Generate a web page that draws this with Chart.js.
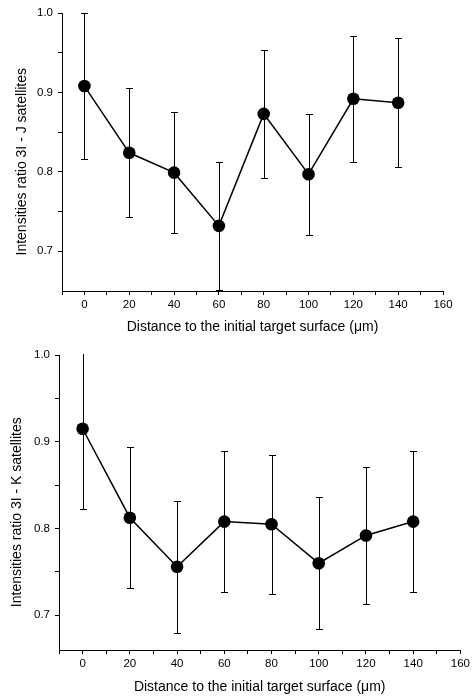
<!DOCTYPE html>
<html>
<head>
<meta charset="utf-8">
<script src="https://cdn.jsdelivr.net/npm/chart.js@4"></script>
<style>
  body { margin: 0; background: #fff; }
  canvas { position: absolute; left: 0; }
</style>
</head>
<body>
<canvas id="chartJ" width="473" height="340" style="top:0"></canvas>
<canvas id="chartK" width="473" height="356" style="top:340px"></canvas>
<script>
var distance = [0, 20, 40, 60, 80, 100, 120, 140];
// 3I - J satellites
var ratioJ = [0.908, 0.824, 0.799, 0.732, 0.873, 0.797, 0.892, 0.887];
var errJ = [0.092, 0.081, 0.076, 0.081, 0.081, 0.076, 0.079, 0.081];
// 3I - K satellites
var ratioK = [0.915, 0.8125, 0.756, 0.808, 0.805, 0.760, 0.792, 0.808];
var errK = [0.092, 0.081, 0.076, 0.081, 0.080, 0.076, 0.079, 0.081];

var xTicks = [-10, 0, 10, 20, 30, 40, 50, 60, 70, 80, 90, 100, 110, 120, 130, 140, 150, 160];
var yTicks = [0.7, 0.75, 0.8, 0.85, 0.9, 0.95, 1.0];

var FONT = 'Liberation Sans, Arial, sans-serif';
Chart.defaults.font.family = FONT;
Chart.defaults.color = '#000';

// error bars drawn with the chart's own scales
var errorBars = {
    id: 'errorBars',
    beforeDatasetsDraw: function (chart) {
        var ctx = chart.ctx, a = chart.chartArea;
        var xs = chart.scales.x, ys = chart.scales.y;
        var err = chart.options.plugins.errorBars.err;
        ctx.save();
        ctx.beginPath();
        ctx.rect(a.left, a.top - 1, a.right - a.left, a.bottom - a.top + 2);
        ctx.clip();
        ctx.strokeStyle = '#000';
        ctx.lineWidth = 1;
        chart.data.datasets[0].data.forEach(function (p, i) {
            var x = Math.round(xs.getPixelForValue(p.x)) + 0.5;
            var y1 = Math.round(ys.getPixelForValue(p.y + err[i])) + 0.5;
            var y2 = Math.round(ys.getPixelForValue(p.y - err[i])) + 0.5;
            ctx.beginPath();
            ctx.moveTo(x, y1); ctx.lineTo(x, y2);
            ctx.moveTo(x - 3.5, y1); ctx.lineTo(x + 3.5, y1);
            ctx.moveTo(x - 3.5, y2); ctx.lineTo(x + 3.5, y2);
            ctx.stroke();
        });
        ctx.restore();
    }
};

function makeChart(id, values, err, yMin, title, lay) {
    var pts = distance.map(function (d, i) { return { x: d, y: values[i] }; });
    return new Chart(document.getElementById(id).getContext('2d'), {
        type: 'scatter',
        data: {
            datasets: [{
                data: pts,
                showLine: true,
                borderColor: '#000',
                borderWidth: 1.5,
                pointRadius: 6.3,
                pointBackgroundColor: '#000',
                pointBorderColor: '#000',
                pointBorderWidth: 0
            }]
        },
        options: {
            responsive: false,
            animation: false,
            devicePixelRatio: 1,
            layout: { padding: { top: lay.top, right: lay.right, left: 0, bottom: 0 } },
            plugins: {
                legend: { display: false },
                tooltip: { enabled: false },
                errorBars: { err: err }
            },
            scales: {
                x: {
                    type: 'linear',
                    min: -10,
                    max: 160,
                    afterBuildTicks: function (s) { s.ticks = xTicks.map(function (v) { return { value: v }; }); },
                    afterFit: function (s) { s.height = lay.xh; },
                    border: { color: '#000', width: 1 },
                    grid: { drawOnChartArea: false, color: '#000', tickLength: 4 },
                    ticks: {
                        autoSkip: false,
                        maxRotation: 0,
                        padding: 3,
                        font: { size: 11.5 },
                        callback: function (v) { return (v >= 0 && v % 20 === 0) ? String(v) : ''; }
                    },
                    title: {
                        display: true,
                        text: 'Distance to the initial target surface (\u03bcm)',
                        font: { size: 14 },
                        padding: { top: 0, bottom: lay.xtp }
                    }
                },
                y: {
                    type: 'linear',
                    min: yMin,
                    max: 1.0,
                    afterBuildTicks: function (s) { s.ticks = yTicks.map(function (v) { return { value: v }; }); },
                    afterFit: function (s) { s.width = lay.yw; },
                    border: { color: '#000', width: 1 },
                    grid: { drawOnChartArea: false, color: '#000', tickLength: 4 },
                    ticks: {
                        autoSkip: false,
                        padding: 5,
                        font: { size: 11.5 },
                        callback: function (v) {
                            var r = Math.round(v * 10) / 10;
                            return Math.abs(r - v) < 1e-6 ? r.toFixed(1) : '';
                        }
                    },
                    title: {
                        display: true,
                        // trailing spaces nudge the rotated title down a little, as in the original
                        text: title + '\u00a0\u00a0\u00a0\u00a0\u00a0',
                        font: { size: 14 },
                        padding: { top: lay.ytp, bottom: 0 }
                    }
                }
            }
        },
        plugins: [errorBars]
    });
}

makeChart('chartJ', ratioJ, errJ, 0.65, 'Intensities ratio 3I - J satellites',
    { top: 13, right: 30, xh: 49, yw: 62, xtp: 4, ytp: 14 });
makeChart('chartK', ratioK, errK, 0.66, 'Intensities ratio 3I - K satellites',
    { top: 15, right: 11, xh: 46, yw: 59, xtp: 0, ytp: 9 });
</script>
</body>
</html>
